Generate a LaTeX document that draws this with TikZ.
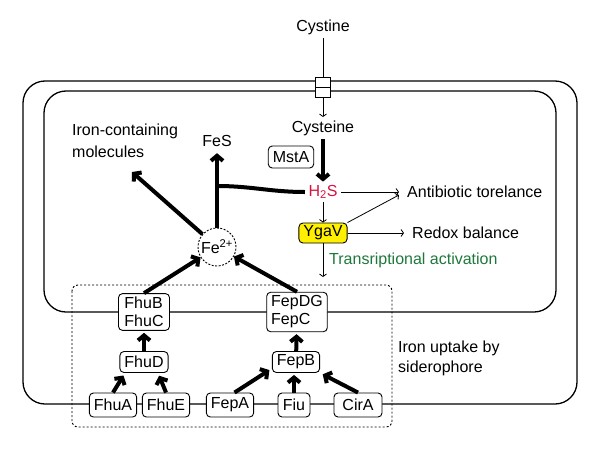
\documentclass[tikz,border=0pt]{standalone}
\usepackage{fontspec}
\setmainfont{Liberation Sans}
\usepackage{xcolor}
\usepackage{tikz}
\usetikzlibrary{arrows.meta}

\definecolor{hsred}{RGB}{214,20,64}
\definecolor{tagreen}{RGB}{30,120,60}
\definecolor{ygyellow}{RGB}{255,240,0}

\begin{document}
\begin{tikzpicture}[x=1pt,y=-1pt,
    font=\fontsize{16}{18}\selectfont,
    prot/.style={draw,rounded corners=4pt,fill=white,line width=0.9pt,
        inner xsep=4.5pt,inner ysep=2pt,minimum height=22pt},
    lbl/.style={inner xsep=8pt,inner ysep=2pt},
    flow/.style={line width=0.8pt,-{Straight Barb[length=2.5pt,width=7pt]}},
    bigflow/.style={line width=4pt,-{Straight Barb[length=5pt,width=12pt]}},
    membrane/.style={line width=1.3pt,rounded corners=22pt}]
    \useasboundingbox (0,0) rectangle (600,450);
    % membranes and siderophore region
    \draw[membrane] (23,81) rectangle (577,404);
    \draw[membrane] (44,91) rectangle (556,312);
    \draw[line width=0.9pt,dash pattern=on 2pt off 2pt,rounded corners=6pt] (72,285) rectangle (392,427);
    % cystine import
    \node (cystine) at (323,27) {Cystine};
    \node[draw,fill=white,line width=1pt,inner sep=0pt,minimum width=15pt,minimum height=10pt] (porta) at (323,82) {};
    \node[draw,fill=white,line width=1pt,inner sep=0pt,minimum width=15pt,minimum height=10pt] (portb) at (323,92) {};
    \node (cysteine) at (323,128) {Cysteine};
    \node[prot] (mstA) at (291,157) {MstA};
    \node[text=hsred] (h2s) at (323,192) {H\textsubscript{2}S};
    \node[prot,fill=ygyellow,minimum height=20pt,inner ysep=0.5pt] (ygav) at (323,233) {YgaV};
    \node[lbl,anchor=west] (antib) at (399,192) {Antibiotic torelance};
    \node[lbl,anchor=west] (redox) at (404,233) {Redox balance};
    \node[lbl,anchor=west,text=tagreen] (tact) at (321,260) {Transriptional activation};
    \coordinate (tatip) at (323,277);
    % iron
    \node[circle,draw,dash pattern=on 2pt off 1.5pt,line width=0.9pt,minimum size=38pt,inner sep=0pt] (fe) at (217,247) {Fe\textsuperscript{2+}};
    \node (fes) at (217,141) {FeS};
    \node[lbl,anchor=west,align=left,font=\fontsize{16}{22}\selectfont] (ironmol) at (64,141) {Iron-containing\\molecules};
    \coordinate (imtip) at (132,172);
    \coordinate (fesstem) at (217,186);
    % siderophore uptake
    \node[prot,align=left,minimum width=51pt,inner ysep=3.5pt] (FhuBC) at (144,312) {FhuB\\FhuC};
    \node[prot,align=left,minimum width=60pt,inner ysep=3.5pt] (FepDGC) at (297,312) {FepDG\\FepC};
    \node[prot,minimum height=21pt] (FhuD) at (144,362) {FhuD};
    \node[prot,minimum height=21pt] (FepB) at (296,362) {FepB};
    \foreach \n/\x/\w in {FhuA/113/47,FhuE/166/47,FepA/230/46,Fiu/294/32,CirA/358/48}
        \node[prot,minimum height=24pt,minimum width=\w pt] (\n) at (\x,405) {\n};
    \node[lbl,anchor=west,align=left,font=\fontsize{16}{20}\selectfont] (sidero) at (390,358) {Iron uptake by\\siderophore};

    % arrows
    \draw[line width=0.8pt] (cystine) -- (porta);
    \draw[flow] (portb) -- (cysteine);
    \draw[bigflow] (cysteine) -- (h2s);
    \draw[flow] (h2s) -- (ygav);
    \draw[flow] (h2s) -- (antib.west);
    \draw[flow] (ygav.north east) -- ([yshift=-3pt]antib.west);
    \draw[flow] (ygav) -- (redox);
    \draw[flow] (ygav) -- (tatip);
    \draw[bigflow] (fe) -- (imtip);
    \draw[bigflow,shorten >=3pt] (fe) -- (fes);
    \draw[line width=4pt] (h2s.west) to[out=180,in=0] (fesstem);
    \draw[bigflow] (FhuBC.north) -- (fe);
    \draw[bigflow] (FepDGC.north) -- (fe);
    \draw[bigflow,shorten >=2pt] (FhuD) -- (FhuBC);
    \draw[bigflow,shorten >=2pt] (FepB) -- (FepDGC);
    \draw[bigflow,shorten >=3pt] (FhuA.north) -- (FhuD.210);
    \draw[bigflow,shorten >=3pt] (FhuE.north) -- (FhuD.-38);
    \draw[bigflow,shorten >=3pt] (FepA.70) -- (FepB.195);
    \draw[bigflow,shorten >=2pt] (Fiu.north) -- (Fiu.north |- FepB.south);
    \draw[bigflow,shorten >=3pt] (CirA.north) -- (FepB.south east);
\end{tikzpicture}
\end{document}
